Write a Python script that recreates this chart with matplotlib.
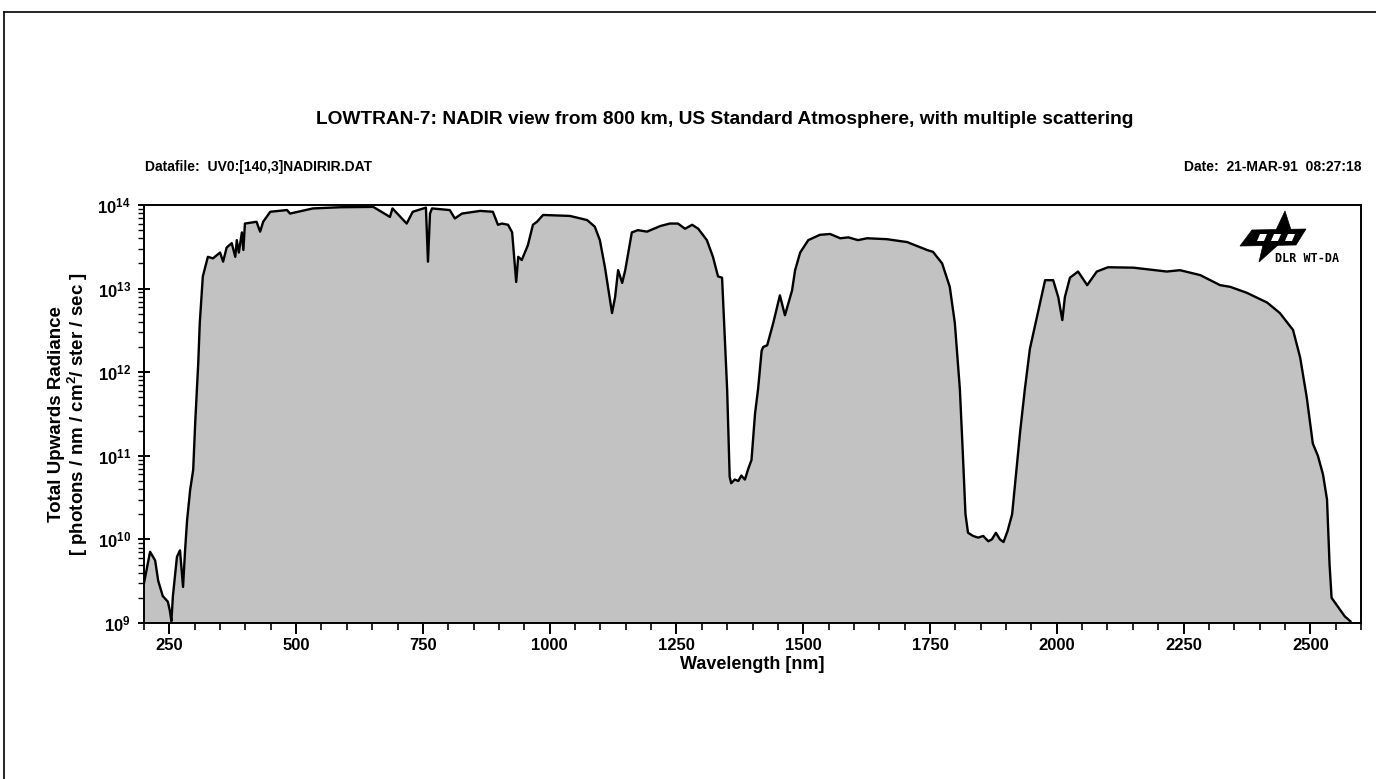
import numpy as np
import matplotlib
matplotlib.use("Agg")
import matplotlib.pyplot as plt
from matplotlib.ticker import MultipleLocator, FixedLocator, FuncFormatter, LogLocator, NullFormatter
from matplotlib.patches import Polygon

plt.rcParams['font.family'] = ['Liberation Sans', 'DejaVu Sans']
plt.rcParams['mathtext.fontset'] = 'custom'
plt.rcParams['mathtext.rm'] = 'Liberation Sans'
plt.rcParams['mathtext.bf'] = 'Liberation Sans:bold'

# ---------------- data ----------------
wavelength_nm = [
    200, 212, 222, 228, 237, 247, 251, 254, 257, 265, 271, 277, 281, 285, 291, 297,
    301, 307, 310, 316, 326, 336, 350, 356, 363, 373, 380, 383, 387, 393, 396, 399,
    422, 429, 435, 449, 482, 488, 533, 587, 652, 685, 690, 718, 730, 756, 760, 764,
    768, 803, 813, 827, 863, 888, 898, 906, 918, 926, 934, 938, 945, 957, 967, 975,
    987, 1040, 1074, 1089, 1099, 1109, 1123, 1129, 1135, 1143, 1149, 1162, 1174, 1192,
    1218, 1237, 1253, 1267, 1281, 1293, 1310, 1322, 1332, 1340, 1342, 1350, 1355, 1358,
    1365, 1372, 1378, 1385, 1392, 1398, 1405, 1411, 1418, 1421, 1429, 1441, 1454, 1464,
    1478, 1484, 1494, 1510, 1533, 1553, 1573, 1589, 1608, 1626, 1665, 1705, 1744, 1756,
    1774, 1789, 1799, 1809, 1815, 1820, 1825, 1835, 1845, 1855, 1865, 1872, 1880, 1888,
    1895, 1903, 1912, 1920, 1928, 1937, 1947, 1961, 1977, 1993, 2003, 2011, 2016, 2026,
    2042, 2060, 2079, 2101, 2151, 2217, 2243, 2283, 2322, 2342, 2375, 2415, 2440, 2466,
    2480, 2493, 2505, 2515, 2525, 2533, 2538, 2542, 2555, 2568, 2579,
]
radiance = [
    3.0e9, 7.1e9, 5.6e9, 3.2e9, 2.1e9, 1.8e9, 1.4e9, 1.05e9, 2.1e9, 6.2e9, 7.4e9, 2.7e9, 7.4e9, 1.7e10, 3.9e10, 6.8e10,
    2.5e11, 1.3e12, 3.9e12, 1.4e13, 2.4e13, 2.3e13, 2.7e13, 2.1e13, 3.1e13, 3.5e13, 2.4e13, 3.8e13, 2.7e13, 4.7e13, 2.9e13, 6.0e13,
    6.3e13, 4.8e13, 6.3e13, 8.3e13, 8.7e13, 7.9e13, 9.1e13, 9.4e13, 9.5e13, 7.2e13, 9.1e13, 6.0e13, 8.3e13, 9.3e13, 2.1e13, 7.9e13,
    9.1e13, 8.7e13, 6.9e13, 7.9e13, 8.5e13, 8.3e13, 5.8e13, 6.0e13, 5.8e13, 4.7e13, 1.2e13, 2.4e13, 2.2e13, 3.3e13, 5.8e13, 6.3e13,
    7.6e13, 7.4e13, 6.6e13, 5.5e13, 3.8e13, 1.8e13, 5.1e12, 7.9e12, 1.66e13, 1.17e13, 1.66e13, 4.7e13, 5.0e13, 4.8e13,
    5.6e13, 6.0e13, 6.0e13, 5.2e13, 5.8e13, 5.2e13, 3.8e13, 2.4e13, 1.4e13, 1.35e13, 7.2e12, 6.2e11, 5.6e10, 4.7e10,
    5.2e10, 5.0e10, 5.8e10, 5.2e10, 7.1e10, 8.9e10, 3.2e11, 6.3e11, 1.8e12, 2.0e12, 2.1e12, 3.9e12, 8.3e12, 4.8e12,
    9.5e12, 1.66e13, 2.7e13, 3.8e13, 4.4e13, 4.5e13, 4.0e13, 4.1e13, 3.8e13, 4.0e13, 3.9e13, 3.6e13, 2.9e13, 2.75e13,
    2.0e13, 1.05e13, 3.9e12, 6.2e11, 1.0e11, 2.0e10, 1.2e10, 1.1e10, 1.05e10, 1.1e10, 9.5e9, 1.0e10, 1.2e10, 1.0e10,
    9.3e9, 1.26e10, 2.0e10, 6.3e10, 2.0e11, 6.2e11, 1.9e12, 4.6e12, 1.26e13, 1.26e13, 7.9e12, 4.2e12, 7.9e12, 1.35e13,
    1.6e13, 1.1e13, 1.6e13, 1.8e13, 1.78e13, 1.6e13, 1.66e13, 1.45e13, 1.1e13, 1.05e13, 8.9e12, 6.8e12, 5.1e12, 3.2e12,
    1.5e12, 5.0e11, 1.4e11, 1.0e11, 6.0e10, 3.0e10, 5.0e9, 2.0e9, 1.55e9, 1.2e9, 1.05e9,
]
x_major_ticks = [250, 500, 750, 1000, 1250, 1500, 1750, 2000, 2250, 2500]

title = "LOWTRAN-7: NADIR view from 800 km, US Standard Atmosphere, with multiple scattering"
datafile_text = "Datafile:  UV0:[140,3]NADIRIR.DAT"
date_text = "Date:  21-MAR-91  08:27:18"
xlabel = "Wavelength [nm]"
ylabel1 = "Total Upwards Radiance"
ylabel2 = r"[ photons / nm / cm$\mathbf{^2}$/ ster / sec ]"
logo_text = "DLR WT-DA"

# ---------------- figure ----------------
W, H = 1376, 779
fig = plt.figure(figsize=(W / 100, H / 100), dpi=100)
fig.patch.set_facecolor('white')

L, R, T, B = 144, 1361, 205, 623
ax = fig.add_axes([L / W, 1 - B / H, (R - L) / W, (B - T) / H])
ax.set_yscale('log')
ax.set_xlim(200, 2600)
ax.set_ylim(1e9, 1e14)

ax.fill_between(wavelength_nm, radiance, 1e9, facecolor='#c2c2c2', edgecolor='none', zorder=1)
ax.plot(wavelength_nm, radiance, color='black', lw=1.7, solid_joinstyle='round', zorder=2)

for s in ax.spines.values():
    s.set_linewidth(1.4)
    s.set_color('black')

ax.xaxis.set_major_locator(FixedLocator(x_major_ticks))
ax.xaxis.set_minor_locator(MultipleLocator(50))
ax.yaxis.set_major_locator(LogLocator(base=10, numticks=10))
ax.yaxis.set_minor_locator(LogLocator(base=10, subs=np.arange(2, 10), numticks=20))
ax.yaxis.set_minor_formatter(NullFormatter())

def yfmt(v, pos):
    e = int(round(np.log10(v)))
    return r'$\mathbf{10^{%d}}$' % e

ax.yaxis.set_major_formatter(FuncFormatter(yfmt))
ax.tick_params(axis='x', which='major', direction='out', length=8, width=1.4, pad=3,
               labelsize=12)
ax.tick_params(axis='x', which='minor', direction='out', length=5, width=1.2)
ax.tick_params(axis='y', which='major', direction='inout', length=9, width=1.4, pad=5,
               labelsize=12)
ax.tick_params(axis='y', which='minor', direction='out', length=4, width=1.0)
for lab in ax.get_xticklabels():
    lab.set_fontweight('bold')

ax.set_xlabel(xlabel, fontsize=13, fontweight='bold', labelpad=2)

# y labels (two lines)
fig.text(57 / W, 1 - 414 / H, ylabel1, rotation=90, ha='center', va='center',
         fontsize=13.5, fontweight='bold')
fig.text(78 / W, 1 - 414 / H, ylabel2, rotation=90, ha='center', va='center',
         fontsize=13.5, fontweight='bold')

# title and header lines
fig.text(725 / W, 1 - 119 / H, title, ha='center', va='center', fontsize=13.8, fontweight='bold')
fig.text(145 / W, 1 - 167 / H, datafile_text, ha='left', va='center', fontsize=10, fontweight='bold')
fig.text(1362 / W, 1 - 167 / H, date_text, ha='right', va='center', fontsize=10, fontweight='bold')

# ---------------- decorations in pixel coordinates (page frame, logo) ----------------
ov = fig.add_axes([0, 0, 1, 1], facecolor='none')
ov.set_xlim(0, W)
ov.set_ylim(H, 0)
ov.axis('off')
ov.plot([4, W], [12, 12], color='black', lw=1.2)
ov.plot([4, 4], [12, H], color='black', lw=1.2)

# DLR logo approximation
ov.add_patch(Polygon([(1252, 230), (1306, 229), (1296, 245), (1240, 246)], closed=True,
                     facecolor='black', edgecolor='black', lw=0.5))
for cx in (1262, 1276, 1290):
    ov.add_patch(Polygon([(cx - 2, 234), (cx + 5, 234), (cx + 2, 241), (cx - 5, 241)],
                         closed=True, facecolor='white', edgecolor='none'))
# upper and lower points of the cross
ov.add_patch(Polygon([(1285, 211), (1291, 230), (1276, 230)], closed=True,
                     facecolor='black', edgecolor='black', lw=0.5))
ov.add_patch(Polygon([(1263, 245), (1278, 245), (1259, 262)], closed=True,
                     facecolor='black', edgecolor='black', lw=0.5))
ov.text(1275, 259, logo_text, ha='left', va='center', fontsize=8.5, fontweight='bold',
        family=['DejaVu Sans Mono', 'DejaVu Sans'])

fig.savefig('out.png', dpi=100, facecolor='white')
